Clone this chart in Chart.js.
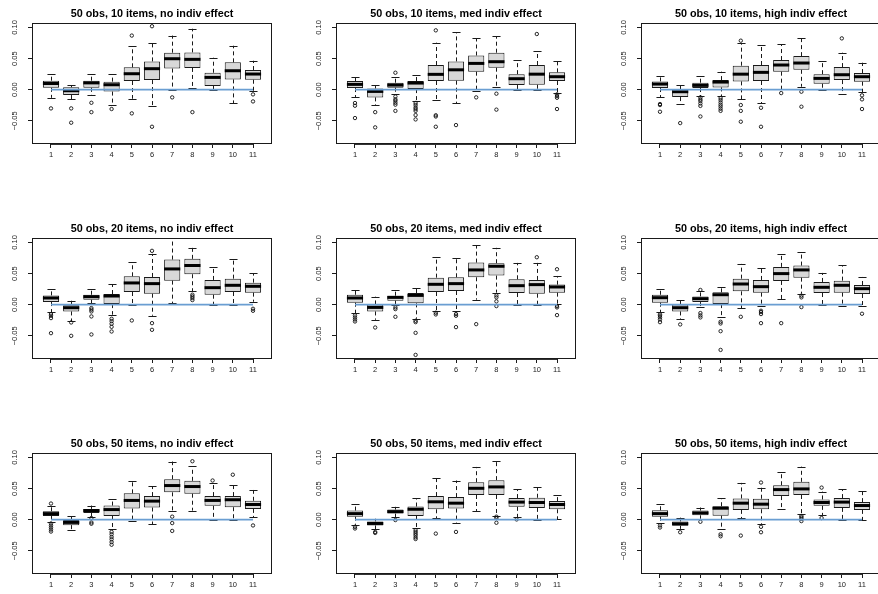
<!DOCTYPE html>
<html>
<head>
<meta charset="utf-8">
<script src="https://cdn.jsdelivr.net/npm/chart.js@4/dist/chart.umd.min.js"></script>
<style>
  html, body { margin: 0; padding: 0; background: #ffffff; overflow: hidden; width: 878px; height: 594px; }
  canvas { position: absolute; }
</style>
</head>
<body>
<script>
// Positions 1..11 on the x axis, and the labelled y ticks
const categories = [1, 2, 3, 4, 5, 6, 7, 8, 9, 10, 11];
const yTickValues = [-0.05, 0, 0.05, 0.10];

const panelTitles = [
  '50 obs, 10 items, no indiv effect',
  '50 obs, 10 items, med indiv effect',
  '50 obs, 10 items, high indiv effect',
  '50 obs, 20 items, no indiv effect',
  '50 obs, 20 items, med indiv effect',
  '50 obs, 20 items, high indiv effect',
  '50 obs, 50 items, no indiv effect',
  '50 obs, 50 items, med indiv effect',
  '50 obs, 50 items, high indiv effect'
];

// Box summaries per position: [lower whisker, Q1, median, Q3, upper whisker]
const stats10No = [
  [-0.013, 0.003, 0.010, 0.0145, 0.025],
  [-0.0155, -0.0086, -0.0016, 0.004, 0.0075],
  [-0.0086, 0.003, 0.011, 0.0145, 0.025],
  [-0.024, -0.003, 0.008, 0.013, 0.025],
  [-0.0145, 0.014, 0.0257, 0.036, 0.0697],
  [-0.0257, 0.0155, 0.0338, 0.0455, 0.0745],
  [0.0, 0.034, 0.0498, 0.0595, 0.087],
  [0.002, 0.035, 0.0488, 0.060, 0.098],
  [0.0, 0.006, 0.0198, 0.0273, 0.0514],
  [-0.022, 0.0166, 0.0305, 0.044, 0.0707],
  [-0.0027, 0.016, 0.0252, 0.0316, 0.0466]
];
const out10No = [
  [-0.030], [-0.030, -0.053], [-0.021, -0.036], [-0.031], [0.087, -0.038],
  [0.110, 0.102, -0.0595], [-0.0123], [-0.036], [], [], [-0.0075, -0.0188]
];

const stats10Med = [
  [-0.0123, 0.0027, 0.0086, 0.014, 0.0198],
  [-0.0246, -0.0123, -0.0027, 0.002, 0.0075],
  [-0.007, 0.0032, 0.0075, 0.0113, 0.0204],
  [-0.0177, 0.001, 0.0107, 0.014, 0.023],
  [-0.0166, 0.014, 0.0247, 0.0397, 0.0756],
  [-0.022, 0.0145, 0.032, 0.0455, 0.092],
  [-0.0027, 0.029, 0.0423, 0.055, 0.0825],
  [0.0043, 0.0354, 0.045, 0.0595, 0.0863],
  [0.0, 0.0075, 0.0177, 0.025, 0.0477],
  [0.0, 0.008, 0.025, 0.0397, 0.0616],
  [-0.0054, 0.014, 0.0209, 0.0279, 0.046]
];
const out10Med = [
  [-0.0214, -0.0257, -0.0455],
  [-0.036, -0.0605],
  [0.0273, -0.011, -0.0155, -0.0177, -0.021, -0.024, -0.034],
  [-0.0214, -0.0246, -0.0284, -0.031, -0.034, -0.0407, -0.0477],
  [0.0954, -0.041, -0.043, -0.0595],
  [-0.0568], [-0.0123], [-0.0064, -0.032], [], [0.0895],
  [-0.0075, -0.0102, -0.0129, -0.031]
];

const stats10High = [
  [-0.0123, 0.0027, 0.0091, 0.0134, 0.0214],
  [-0.0225, -0.0118, -0.0032, 0.001, 0.007],
  [-0.0102, 0.0027, 0.007, 0.0113, 0.0225],
  [-0.0107, 0.0037, 0.0123, 0.0155, 0.029],
  [-0.0155, 0.0134, 0.025, 0.0386, 0.075],
  [-0.0214, 0.014, 0.0279, 0.0397, 0.0723],
  [0.001, 0.029, 0.0397, 0.0477, 0.0734],
  [0.0048, 0.032, 0.0429, 0.054, 0.0825],
  [0.0, 0.0096, 0.0182, 0.025, 0.0455],
  [-0.007, 0.0155, 0.0241, 0.0364, 0.0595],
  [-0.0043, 0.0129, 0.0209, 0.0268, 0.0434]
];
const out10High = [
  [-0.023, -0.0246, -0.0354],
  [-0.0536],
  [-0.0123, -0.0155, -0.018, -0.022, -0.026, -0.043],
  [-0.0134, -0.0166, -0.0204, -0.024, -0.027, -0.0305, -0.034],
  [0.0788, -0.0246, -0.034, -0.0514],
  [-0.029, -0.0595], [-0.0054], [-0.0032, -0.0273], [], [0.0825],
  [-0.009, -0.0155, -0.031]
];

const stats20No = [
  [-0.0118, 0.0043, 0.0108, 0.015, 0.0253],
  [-0.0263, -0.0108, -0.0048, 0.0, 0.0065],
  [0.0022, 0.008, 0.0129, 0.016, 0.0253],
  [-0.016, 0.001, 0.014, 0.0172, 0.0333],
  [0.0, 0.0204, 0.035, 0.0457, 0.0683],
  [-0.0177, 0.0177, 0.0339, 0.0446, 0.0817],
  [0.0022, 0.0387, 0.0575, 0.0726, 0.112],
  [0.0215, 0.049, 0.063, 0.0737, 0.0919],
  [0.0, 0.0161, 0.0274, 0.0398, 0.0602],
  [0.0, 0.0204, 0.0312, 0.0419, 0.0731],
  [0.0048, 0.0194, 0.0296, 0.0355, 0.0505]
];
const out20No = [
  [-0.015, -0.0177, -0.0215, -0.0457],
  [-0.0285, -0.050],
  [-0.0054, -0.008, -0.0108, -0.0188, -0.0478],
  [-0.0226, -0.0263, -0.0306, -0.0355, -0.043],
  [-0.0253],
  [0.0866, -0.0296, -0.0403],
  [],
  [0.0161, 0.0134, 0.0108, 0.0075],
  [], [],
  [-0.0065, -0.0097]
];

const stats20Med = [
  [-0.0134, 0.0032, 0.0108, 0.016, 0.0237],
  [-0.0242, -0.0108, -0.0043, 0.0005, 0.0129],
  [0.0, 0.0065, 0.0118, 0.0145, 0.0237],
  [-0.0226, 0.0022, 0.015, 0.0188, 0.0269],
  [-0.0097, 0.0204, 0.0328, 0.0435, 0.0769],
  [-0.0097, 0.022, 0.0339, 0.0441, 0.0747],
  [0.0081, 0.0441, 0.0559, 0.0677, 0.0957],
  [0.0194, 0.0468, 0.0618, 0.0667, 0.0914],
  [-0.001, 0.0188, 0.0306, 0.0409, 0.0672],
  [0.0, 0.0177, 0.0323, 0.0398, 0.0672],
  [0.0011, 0.0194, 0.0285, 0.0323, 0.0462]
];
const out20Med = [
  [-0.0172, -0.0204, -0.0237, -0.0269],
  [-0.0366],
  [-0.0043, -0.007, -0.0194],
  [-0.0258, -0.028, -0.0452, -0.0806],
  [-0.0129, -0.0156],
  [-0.015, -0.0177, -0.036],
  [-0.0312],
  [0.015, 0.0118, 0.0054, -0.0022],
  [],
  [0.0763],
  [0.057, -0.0022, -0.0043, -0.0167]
];

const stats20High = [
  [-0.0124, 0.0032, 0.0113, 0.016, 0.0253],
  [-0.0237, -0.0108, -0.0048, 0.0005, 0.0075],
  [-0.0043, 0.0043, 0.0097, 0.0134, 0.022],
  [-0.0204, 0.001, 0.0161, 0.0199, 0.029],
  [-0.0054, 0.0215, 0.0333, 0.0419, 0.0656],
  [-0.0027, 0.0194, 0.029, 0.0398, 0.0591],
  [0.0086, 0.0382, 0.05, 0.0608, 0.0817],
  [0.0177, 0.0435, 0.0559, 0.0629, 0.0849],
  [-0.001, 0.0188, 0.028, 0.0366, 0.0511],
  [-0.0022, 0.0194, 0.0312, 0.0387, 0.0634],
  [-0.0022, 0.0172, 0.0258, 0.0317, 0.0446]
];
const out20High = [
  [-0.0156, -0.0177, -0.0204, -0.0237, -0.028],
  [-0.0317],
  [0.0237, -0.0134, -0.0172, -0.0204],
  [-0.0274, -0.0301, -0.0425, -0.0726],
  [-0.0194],
  [-0.0097, -0.0118, -0.015, -0.0296],
  [-0.0296],
  [0.0145, 0.0118, -0.0038],
  [], [],
  [-0.0145]
];

const stats50No = [
  [-0.0033, 0.006, 0.0098, 0.0136, 0.0228],
  [-0.0168, -0.0087, -0.0043, -0.0005, 0.0065],
  [0.0049, 0.0109, 0.0147, 0.0174, 0.0228],
  [-0.0152, 0.006, 0.0163, 0.0228, 0.0332],
  [-0.0016, 0.0179, 0.031, 0.0424, 0.063],
  [-0.0071, 0.0196, 0.0299, 0.038, 0.0538],
  [0.0147, 0.044, 0.0549, 0.0652, 0.0935],
  [0.0147, 0.0418, 0.0533, 0.0625, 0.0859],
  [0.0, 0.0223, 0.031, 0.038, 0.0592],
  [0.0, 0.0201, 0.0321, 0.038, 0.0565],
  [0.0038, 0.0174, 0.0245, 0.0304, 0.0478]
];
const out50No = [
  [0.026, -0.006, -0.0092, -0.0125, -0.0158, -0.019],
  [],
  [0.0027, -0.0043, -0.0065],
  [-0.0196, -0.0234, -0.0277, -0.0315, -0.0359, -0.0402],
  [], [],
  [0.0049, -0.0054, -0.018],
  [0.094],
  [0.063],
  [0.0723],
  [-0.0092]
];

const stats50Med = [
  [-0.0082, 0.0049, 0.0098, 0.0147, 0.0245],
  [-0.0152, -0.0092, -0.006, -0.0027, 0.0016],
  [0.0038, 0.0098, 0.013, 0.0163, 0.0207],
  [-0.0136, 0.006, 0.0168, 0.0212, 0.0348],
  [0.0022, 0.0168, 0.0288, 0.038, 0.0663],
  [-0.0054, 0.0179, 0.0266, 0.0364, 0.063],
  [0.0141, 0.0397, 0.0505, 0.0603, 0.0848],
  [0.0065, 0.0397, 0.0527, 0.0636, 0.0951],
  [0.0038, 0.0207, 0.0283, 0.0348, 0.0489],
  [0.0, 0.019, 0.0277, 0.0353, 0.0522],
  [0.0005, 0.0168, 0.0245, 0.0299, 0.0402]
];
const out50Med = [
  [-0.0114, -0.0141],
  [-0.0196, -0.0212],
  [-0.0005],
  [-0.0168, -0.0196, -0.0223, -0.025, -0.0283, -0.031],
  [-0.0223],
  [-0.0196],
  [],
  [0.0049, 0.0027, -0.0049],
  [0.0005],
  [], []
];

const stats50High = [
  [-0.0054, 0.0049, 0.0098, 0.0152, 0.0245],
  [-0.0147, -0.0098, -0.0065, -0.0027, 0.0033],
  [0.0016, 0.0071, 0.0109, 0.0147, 0.0196],
  [-0.0141, 0.0065, 0.0185, 0.0217, 0.0342],
  [0.0022, 0.0158, 0.0266, 0.0342, 0.0592],
  [-0.0076, 0.0168, 0.025, 0.0337, 0.0516],
  [0.0179, 0.038, 0.0484, 0.0554, 0.0761],
  [0.0092, 0.0397, 0.0495, 0.0609, 0.0853],
  [0.0076, 0.0223, 0.0277, 0.0326, 0.0451],
  [0.0, 0.019, 0.0283, 0.0348, 0.0489],
  [-0.0011, 0.0158, 0.0228, 0.0283, 0.0462]
];
const out50High = [
  [-0.0092, -0.0125],
  [-0.0201],
  [-0.0033],
  [-0.0234, -0.0266],
  [-0.0255],
  [0.0598, -0.0114, -0.0201],
  [],
  [0.006, 0.0038, 0.0016, -0.0022],
  [0.0516, 0.0027],
  [], []
];

const panelStats = [stats10No, stats10Med, stats10High, stats20No, stats20Med, stats20High, stats50No, stats50Med, stats50High];
const panelOutliers = [out10No, out10Med, out10High, out20No, out20Med, out20High, out50No, out50Med, out50High];

// ---- appearance ----
const FONT = '"Liberation Sans", Arial, Helvetica, sans-serif';
const INK = '#1a1a1a';
const BOX_FILL = '#d8d8d8';
const REF_LINE = '#6a9ed2';
const COL_LEFT = [0, 304, 609];
const ROW_TOP = [0, 215, 430];
const CANVAS_W = 304, CANVAS_H = 168;
const BOX_INDEX = 0;

function tickText(v) {
  return (v < 0 ? '\u2212' : '') + Math.abs(v).toFixed(2);
}

// Whiskers, staples, medians and the plot frame, all placed through the chart scales
const boxWhiskers = {
  id: 'boxWhiskers',
  beforeDatasetsDraw(chart) {
    const ds = chart.data.datasets[BOX_INDEX];
    const meta = chart.getDatasetMeta(BOX_INDEX);
    const ys = chart.scales.y;
    const a = chart.chartArea;
    const ctx = chart.ctx;
    ctx.save();
    ctx.beginPath();
    ctx.rect(a.left, a.top, a.right - a.left, a.bottom - a.top);
    ctx.clip();
    ctx.strokeStyle = INK;
    ctx.lineWidth = 1;
    meta.data.forEach((bar, i) => {
      const s = ds.stats[i];
      const cx = Math.round(bar.x) + 0.5;
      const half = bar.width / 4;
      const yLo = ys.getPixelForValue(s[0]);
      const yQ1 = ys.getPixelForValue(s[1]);
      const yQ3 = ys.getPixelForValue(s[3]);
      const yHi = ys.getPixelForValue(s[4]);
      ctx.setLineDash([4, 3]);
      ctx.beginPath();
      ctx.moveTo(cx, yQ3); ctx.lineTo(cx, yHi);
      ctx.moveTo(cx, yQ1); ctx.lineTo(cx, yLo);
      ctx.stroke();
      ctx.setLineDash([]);
      ctx.beginPath();
      ctx.moveTo(cx - half, Math.round(yHi) + 0.5); ctx.lineTo(cx + half, Math.round(yHi) + 0.5);
      ctx.moveTo(cx - half, Math.round(yLo) + 0.5); ctx.lineTo(cx + half, Math.round(yLo) + 0.5);
      ctx.stroke();
    });
    ctx.restore();
  },
  afterDatasetDraw(chart, args) {
    if (args.index !== BOX_INDEX) return;
    const ds = chart.data.datasets[BOX_INDEX];
    const ys = chart.scales.y;
    const ctx = chart.ctx;
    ctx.save();
    ctx.strokeStyle = '#000000';
    ctx.lineWidth = 3;
    args.meta.data.forEach((bar, i) => {
      const y = ys.getPixelForValue(ds.stats[i][2]);
      ctx.beginPath();
      ctx.moveTo(bar.x - bar.width / 2, y);
      ctx.lineTo(bar.x + bar.width / 2, y);
      ctx.stroke();
    });
    ctx.restore();
  },
  afterDraw(chart) {
    const a = chart.chartArea;
    const xs = chart.scales.x;
    const ctx = chart.ctx;
    ctx.save();
    ctx.strokeStyle = INK;
    ctx.lineWidth = 1;
    ctx.strokeRect(a.left + 0.5, a.top + 0.5, a.right - a.left - 1, a.bottom - a.top - 1);
    // axis line between the first and last position
    ctx.strokeStyle = '#333333';
    ctx.beginPath();
    ctx.moveTo(xs.getPixelForValue(categories[0]), a.bottom + 0.5);
    ctx.lineTo(xs.getPixelForValue(categories[categories.length - 1]), a.bottom + 0.5);
    ctx.stroke();
    ctx.restore();
  }
};

panelTitles.forEach((title, k) => {
  const stats = panelStats[k];
  const outliers = panelOutliers[k];
  const canvas = document.createElement('canvas');
  canvas.width = CANVAS_W;
  canvas.height = CANVAS_H;
  canvas.style.left = COL_LEFT[k % 3] + 'px';
  canvas.style.top = ROW_TOP[Math.floor(k / 3)] + 'px';
  canvas.style.width = CANVAS_W + 'px';
  canvas.style.height = CANVAS_H + 'px';
  document.body.appendChild(canvas);

  const boxData = stats.map((s, i) => ({ x: categories[i], y: [s[1], s[3]] }));
  const outlierData = [];
  outliers.forEach((list, i) => list.forEach(v => outlierData.push({ x: categories[i], y: v })));

  new Chart(canvas, {
    type: 'bar',
    data: {
      datasets: [
        {
          type: 'bar',
          data: boxData,
          stats: stats,
          backgroundColor: BOX_FILL,
          borderColor: INK,
          borderWidth: 1,
          borderSkipped: false,
          categoryPercentage: 1,
          barPercentage: 0.8,
          order: 3
        },
        {
          type: 'scatter',
          data: outlierData,
          pointStyle: 'circle',
          pointRadius: 1.7,
          pointBorderWidth: 0.9,
          pointBackgroundColor: 'rgba(0,0,0,0)',
          pointBorderColor: '#111111',
          showLine: false,
          order: 2
        },
        {
          type: 'line',
          data: [{ x: categories[0], y: 0 }, { x: categories[categories.length - 1], y: 0 }],
          borderColor: REF_LINE,
          borderWidth: 1.8,
          pointRadius: 0,
          fill: false,
          order: 1
        }
      ]
    },
    options: {
      responsive: false,
      animation: false,
      devicePixelRatio: 1,
      events: [],
      layout: { padding: { left: 0, right: 32, top: 0, bottom: 0 } },
      plugins: {
        legend: { display: false },
        tooltip: { enabled: false },
        title: {
          display: true,
          fullSize: false,
          text: title,
          color: '#000000',
          font: { family: FONT, size: 10.8, weight: 'bold' },
          padding: { top: 7.5, bottom: 2.54 }
        }
      },
      scales: {
        x: {
          type: 'linear',
          min: 0.06,
          max: 11.94,
          offset: false,
          afterBuildTicks: scale => { scale.ticks = categories.map(v => ({ value: v })); },
          afterFit: scale => { scale.height = 24; },
          grid: { display: true, offset: false, drawOnChartArea: false, drawTicks: true, tickLength: 4, color: INK, lineWidth: 1 },
          border: { display: false },
          ticks: {
            autoSkip: false,
            maxRotation: 0,
            minRotation: 0,
            padding: 2,
            color: INK,
            font: { family: FONT, size: 7.5 },
            callback: v => String(v)
          }
        },
        y: {
          type: 'linear',
          min: -0.0872,
          max: 0.1072,
          afterBuildTicks: scale => { scale.ticks = yTickValues.map(v => ({ value: v })); },
          afterFit: scale => { scale.width = 32; },
          grid: { display: true, drawOnChartArea: false, drawTicks: true, tickLength: 4, color: INK, lineWidth: 1 },
          border: { display: false },
          ticks: {
            autoSkip: false,
            minRotation: 90,
            maxRotation: 90,
            crossAlign: 'center',
            padding: 4,
            color: INK,
            font: { family: FONT, size: 7.5 },
            callback: v => tickText(v)
          }
        }
      }
    },
    plugins: [boxWhiskers]
  });
});
</script>
</body>
</html>
